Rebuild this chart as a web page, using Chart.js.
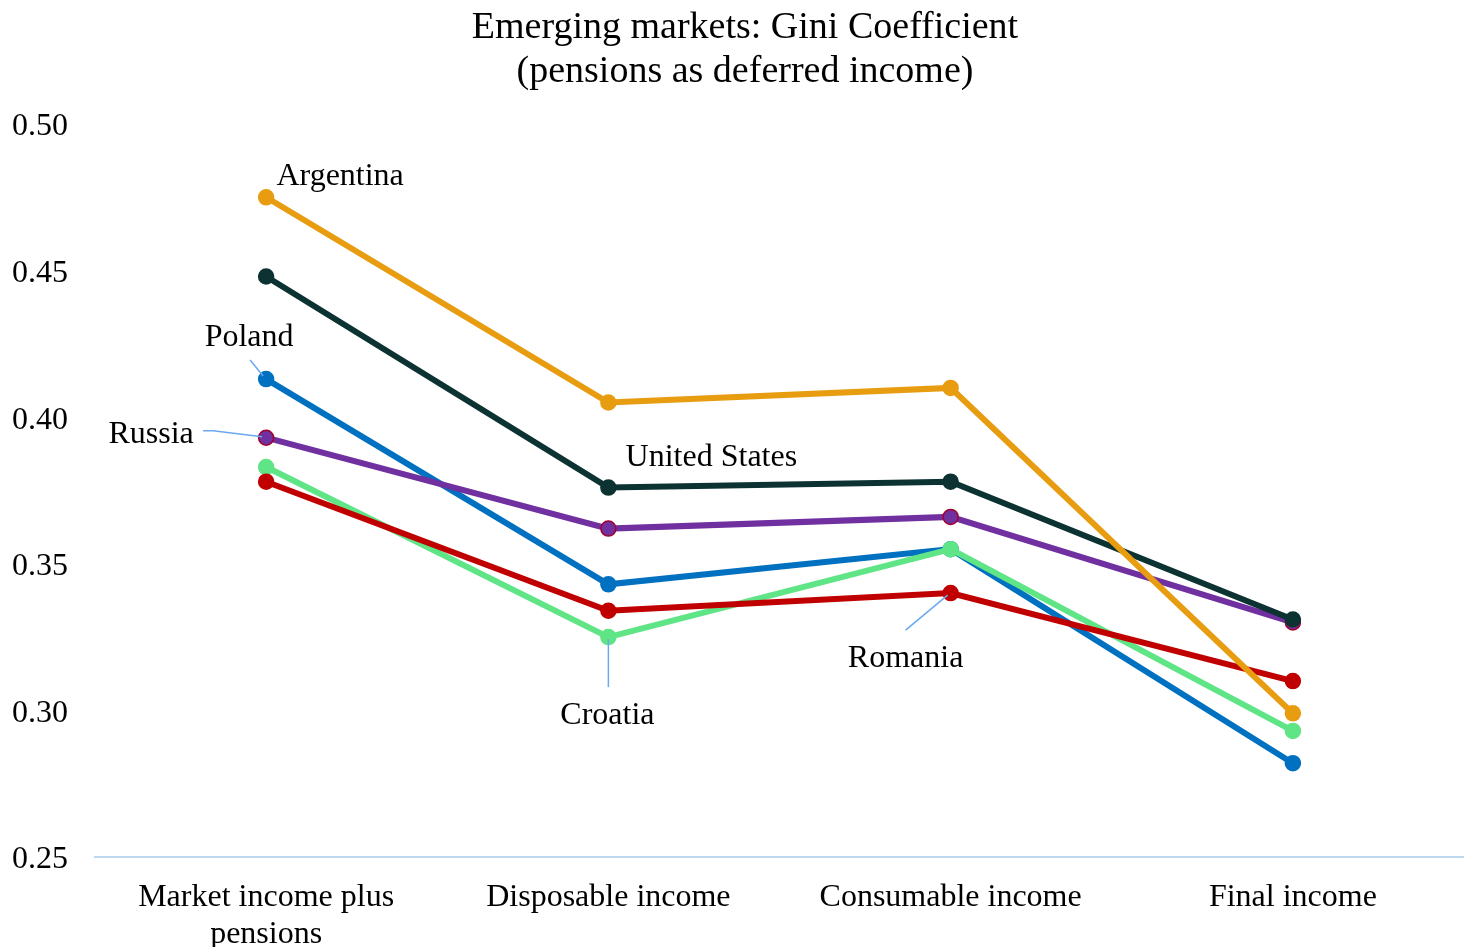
<!DOCTYPE html>
<html>
<head>
<meta charset="utf-8">
<script src="https://cdn.jsdelivr.net/npm/chart.js@4.4.1/dist/chart.umd.min.js"></script>
<style>
  html, body { margin: 0; padding: 0; background: #fff; overflow: hidden; }
  #wrap { width: 1464px; height: 947px; }
</style>
</head>
<body>
<div id="wrap"><canvas id="gini"></canvas></div>
<script>
// categories (x axis)
const categories = [
  ["Market income plus", "pensions"],
  "Disposable income",
  "Consumable income",
  "Final income"
];

// Gini values
const argentina = [0.475, 0.405, 0.410, 0.299];
const unitedStates = [0.448, 0.376, 0.378, 0.331];
const romania = [0.378, 0.334, 0.340, 0.310];
const croatia = [0.383, 0.325, 0.355, 0.293];
const russia = [0.393, 0.362, 0.366, 0.330];
const poland = [0.413, 0.343, 0.355, 0.282];

const yTicks = [0.25, 0.30, 0.35, 0.40, 0.45, 0.50];

const titleLines = ["Emerging markets: Gini Coefficient", "(pensions as deferred income)"];

const serif = "'Liberation Serif', 'Times New Roman', serif";

// label positions relative to a point (pixel offsets) + optional leader line
const seriesLabels = [
  { ds: 0, idx: 0, text: "Argentina", dx: 74, dy: -24 },
  { ds: 1, idx: 1, text: "United States", dx: 103, dy: -33 },
  { ds: 5, idx: 0, text: "Poland", dx: -17, dy: -44, line: [[-16, -19], [-3, -3]] },
  { ds: 4, idx: 0, text: "Russia", dx: -115, dy: -6, line: [[-63, -7], [-53, -7], [-4, -1]] },
  { ds: 3, idx: 1, text: "Croatia", dx: -1, dy: 75, line: [[0, 50], [0, 2]] },
  { ds: 2, idx: 2, text: "Romania", dx: -45, dy: 62, line: [[-45, 37], [-3, 2]] }
];

const labelPlugin = {
  id: "seriesLabels",
  afterDatasetsDraw(chart) {
    const ctx = chart.ctx;
    ctx.save();
    seriesLabels.forEach((l) => {
      const pt = chart.getDatasetMeta(l.ds).data[l.idx];
      if (l.line) {
        ctx.strokeStyle = "#6aa8f0";
        ctx.lineWidth = 1.5;
        ctx.beginPath();
        l.line.forEach((p, i) => {
          if (i === 0) ctx.moveTo(pt.x + p[0], pt.y + p[1]);
          else ctx.lineTo(pt.x + p[0], pt.y + p[1]);
        });
        ctx.stroke();
      }
      ctx.fillStyle = "#000";
      ctx.font = "32px " + serif;
      ctx.textAlign = "center";
      ctx.textBaseline = "middle";
      ctx.fillText(l.text, pt.x + l.dx, pt.y + l.dy + 3);
    });

    // title, drawn by hand so it sits where the original one does
    ctx.font = "38px " + serif;
    ctx.fillText(titleLines[0], 745, 28);
    ctx.fillText(titleLines[1], 745, 72);
    ctx.restore();
  }
};

function series(label, values, color, border) {
  return {
    label: label,
    data: values,
    borderColor: color,
    backgroundColor: color,
    pointBackgroundColor: color,
    pointBorderColor: border || color,
    pointBorderWidth: 1.5,
    borderWidth: 6,
    pointRadius: 7.5,
    tension: 0
  };
}

const ctx = document.getElementById("gini");

new Chart(ctx, {
  type: "line",
  data: {
    labels: categories,
    datasets: [
      series("Argentina", argentina, "#e89c10"),
      series("United States", unitedStates, "#0c3232"),
      series("Romania", romania, "#c00000"),
      series("Croatia", croatia, "#5fe585"),
      series("Russia", russia, "#7030a0", "#a0002a"),
      series("Poland", poland, "#0070c0")
    ]
  },
  plugins: [labelPlugin],
  options: {
    responsive: true,
    maintainAspectRatio: false,
    animation: false,
    layout: { autoPadding: false, padding: { left: 12, right: 0, top: 124, bottom: 0 } },
    plugins: {
      legend: { display: false },
      tooltip: { enabled: false },
      title: { display: false }
    },
    scales: {
      x: {
        offset: true,
        grid: { display: false, drawTicks: false },
        border: { display: true, color: "#bdd7ee", width: 2 },
        afterFit: (s) => { s.height = 90; },
        ticks: {
          color: "#000",
          padding: 22,
          maxRotation: 0,
          font: { family: serif, size: 32, lineHeight: 1.16 }
        }
      },
      y: {
        min: 0.25,
        max: 0.5,
        afterBuildTicks: (s) => { s.ticks = yTicks.map((v) => ({ value: v })); },
        afterFit: (s) => { s.width = 83; },
        grid: { display: false, drawTicks: false },
        border: { display: false },
        ticks: {
          color: "#000",
          crossAlign: "far",
          labelOffset: 3,
          font: { family: serif, size: 32 },
          callback: (v) => v.toFixed(2)
        }
      }
    }
  }
});
</script>
</body>
</html>
